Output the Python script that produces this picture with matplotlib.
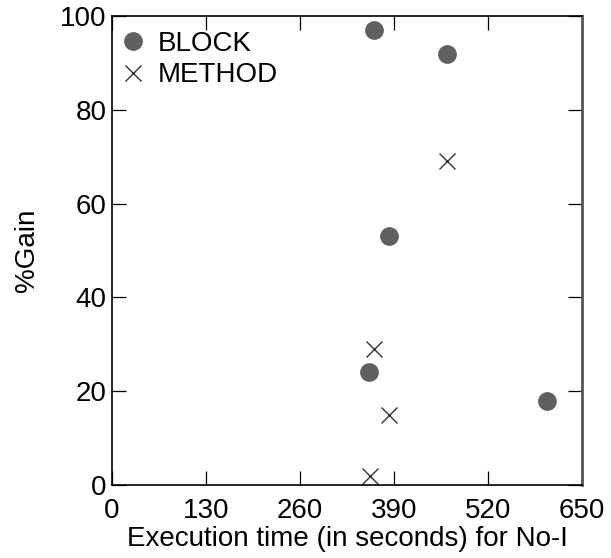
import matplotlib
matplotlib.use("Agg")
import matplotlib.pyplot as plt

plt.rcParams['font.family'] = ['Liberation Sans', 'DejaVu Sans']

# execution time (s) vs % gain
block_time = [363, 463, 383, 356, 601]
block_gain = [97, 92, 53, 24, 18]
method_time = [463, 363, 383, 357]
method_gain = [69, 29, 15, 2]

xticks = [0, 130, 260, 390, 520, 650]
yticks = [0, 20, 40, 60, 80, 100]

fig = plt.figure(figsize=(6.11, 5.58), dpi=100)
ax = fig.add_axes([0.1833, 0.1308, 0.7692, 0.8405])

ax.plot(block_time, block_gain, 'o', color='#606060', markersize=13.5,
        markeredgewidth=0, label='BLOCK')
ax.plot(method_time, method_gain, 'x', color='#333333', markersize=12,
        markeredgewidth=1.0, label='METHOD')

ax.set_xlim(0, 650)
ax.set_ylim(0, 100)
ax.set_xticks(xticks)
ax.set_yticks(yticks)
ax.tick_params(direction='in', length=10, width=0.9, top=True, right=True,
               labelsize=20)
ax.tick_params(axis='x', pad=9)
ax.tick_params(axis='y', pad=4)
for s in ax.spines.values():
    s.set_linewidth(1.2)
ax.spines['right'].set_color('#555555')
ax.spines['right'].set_linewidth(2)

ax.set_xlabel('Execution time (in seconds) for No-I', fontsize=20, labelpad=2)
ax.set_ylabel('%Gain', fontsize=20, labelpad=14)

ax.legend(loc='upper left', bbox_to_anchor=(-0.006, 0.983), frameon=False,
          fontsize=20, handletextpad=0.3, borderaxespad=0.0, labelspacing=0.2,
          borderpad=0.25, handlelength=1.2)

fig.savefig('out.png', dpi=100)
